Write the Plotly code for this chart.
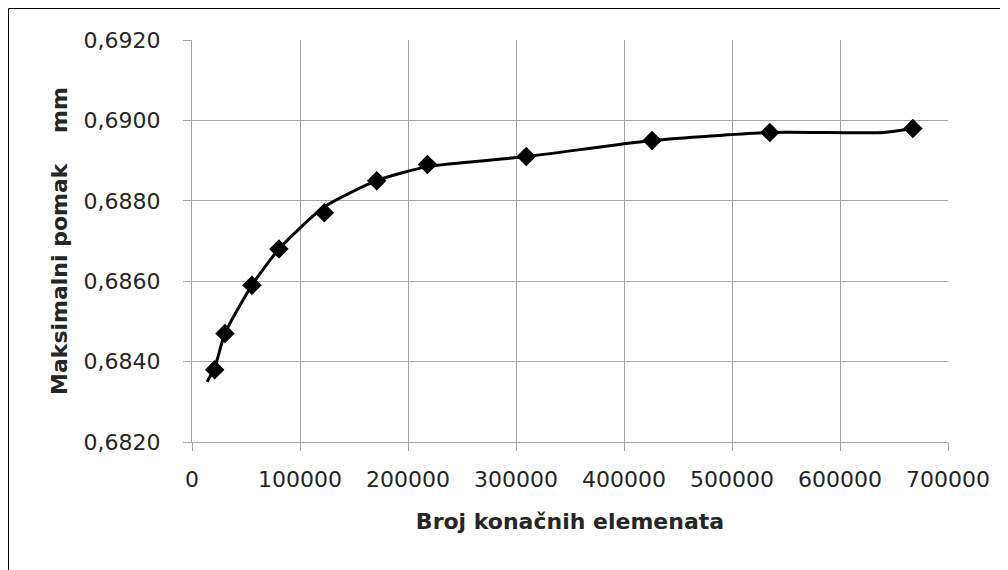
import plotly.graph_objects as go

# Data points (markers)
elements = [21000, 30500, 55500, 80500, 122500, 171000, 218000, 309500, 426000, 535000, 667500]
displacement = [0.6838, 0.6847, 0.6859, 0.6868, 0.6877, 0.6885, 0.6889, 0.6891, 0.6895, 0.6897, 0.6898]

# Smoothed curve
curve_x = [14000, 21000, 30500, 55500, 80500, 122500, 171000, 218000, 309500, 426000, 535000, 640000, 667500]
curve_y = [0.6835, 0.68385, 0.6847, 0.6859, 0.6868, 0.68785, 0.6885, 0.68885, 0.6891, 0.6895, 0.6897, 0.6897, 0.6898]

x_title = "Broj konačnih elemenata"
y_title = "Maksimalni pomak\u00a0\u00a0\u00a0\u00a0mm"

L, T, PW, PH = 184, 32, 756, 402
W, H = 1000, 562

fig = go.Figure()
fig.add_trace(go.Scatter(x=curve_x, y=curve_y, mode="lines",
                         line=dict(color="black", width=3, shape="spline", smoothing=0.6),
                         hoverinfo="skip", showlegend=False))
fig.add_trace(go.Scatter(x=elements, y=displacement, mode="markers",
                         marker=dict(symbol="diamond", size=15, color="black"),
                         showlegend=False))

grid = "#a6a6a6"
fig.update_layout(
    width=W, height=H,
    margin=dict(l=L, r=W - L - PW, t=T, b=H - T - PH),
    paper_bgcolor="white", plot_bgcolor="white",
    separators=",.",
    font=dict(family="DejaVu Sans", size=22, color="#262626"),
    xaxis=dict(range=[0, 700000], tickvals=[0, 100000, 200000, 300000, 400000, 500000, 600000, 700000],
               tickformat="d", showgrid=True, gridcolor=grid, gridwidth=1,
               showline=True, linecolor=grid, linewidth=1, ticks="outside", ticklen=8, tickcolor=grid,
               tickfont=dict(size=22), ticklabelstandoff=10, zeroline=False, mirror=False,
               title=dict(text=x_title, font=dict(size=22, family="DejaVu Sans", weight="bold"), standoff=22)),
    yaxis=dict(range=[0.682, 0.692], tickvals=[0.682, 0.684, 0.686, 0.688, 0.690, 0.692],
               tickformat=".4f", showgrid=True, gridcolor=grid, gridwidth=1,
               showline=True, linecolor=grid, linewidth=1, ticks="outside", ticklen=8, tickcolor=grid,
               tickfont=dict(size=22), ticklabelstandoff=18, zeroline=False,
               title=dict(text=y_title, font=dict(size=22, family="DejaVu Sans", weight="bold"), standoff=9)),
)

# Outer chart border (left and top edges visible)
bx = (0.5 - L) / PW
by = (T + PH - 0.5) / PH
fig.add_shape(type="line", xref="paper", yref="paper", x0=bx, x1=1.2, y0=by, y1=by,
              line=dict(color="black", width=1))
fig.add_shape(type="line", xref="paper", yref="paper", x0=bx, x1=bx, y0=by, y1=-0.4,
              line=dict(color="black", width=1))

fig.write_html("out.html")
